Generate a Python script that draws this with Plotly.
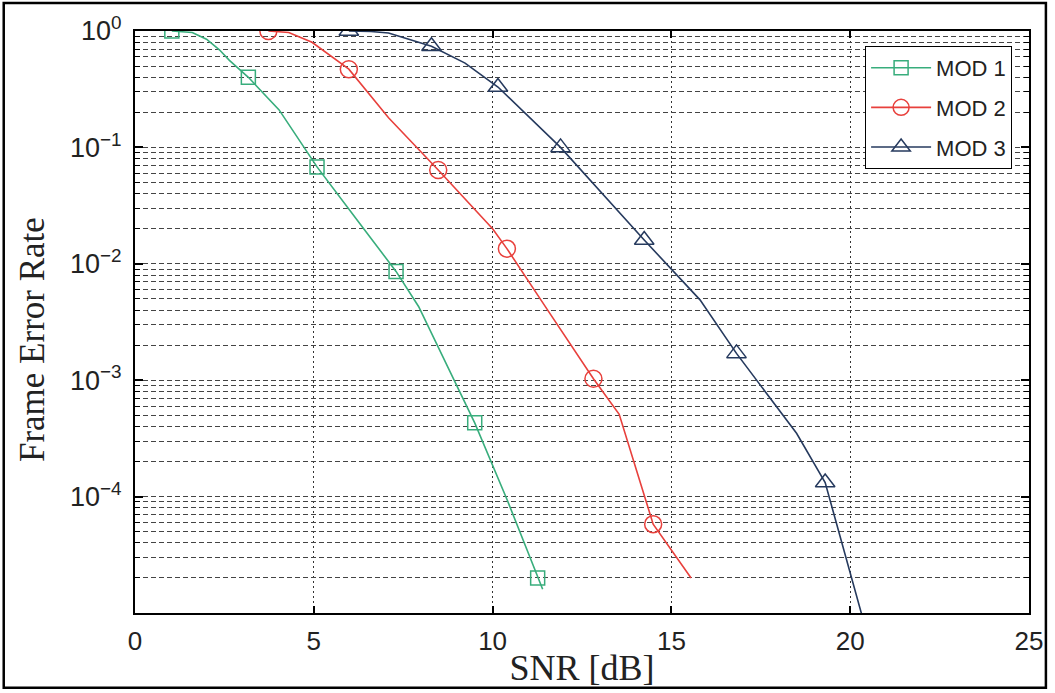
import plotly.graph_objects as go

# ---- data ----
mod1_line_x = [1.03, 1.6, 2.0, 2.36, 2.64, 3.17, 4.03, 5.09, 6.2, 7.3, 7.93, 9.5, 10.4, 11.26, 11.4]
mod1_line_y = [1.0, 0.97, 0.85, 0.69, 0.56, 0.40, 0.21, 0.068, 0.024, 0.0086, 0.0043, 4.3e-4, 9.5e-5, 2.0e-5, 1.6e-5]
mod1_mk_x = [1.03, 3.17, 5.09, 7.3, 9.5, 11.26]
mod1_mk_y = [1.0, 0.40, 0.068, 0.0086, 4.3e-4, 2.0e-5]

mod2_line_x = [3.73, 4.3, 4.95, 5.98, 7.09, 8.48, 10.0, 10.4, 11.54, 12.82, 13.54, 14.49, 15.55]
mod2_line_y = [1.0, 0.97, 0.8, 0.47, 0.18, 0.064, 0.020, 0.0135, 0.0040, 1.03e-3, 5.1e-4, 5.8e-5, 2.0e-5]
mod2_mk_x = [3.73, 5.98, 8.48, 10.4, 12.82, 14.49]
mod2_mk_y = [1.0, 0.47, 0.064, 0.0135, 1.03e-3, 5.8e-5]

mod3_line_x = [5.98, 6.6, 7.09, 8.29, 9.23, 10.15, 11.9, 14.24, 15.8, 16.82, 18.5, 19.3, 20.45]
mod3_line_y = [1.0, 0.99, 0.96, 0.74, 0.53, 0.33, 0.10, 0.016, 0.0049, 1.7e-3, 3.5e-4, 1.32e-4, 7e-6]
mod3_mk_x = [5.98, 8.29, 10.15, 11.9, 14.24, 16.82, 19.3]
mod3_mk_y = [1.0, 0.74, 0.33, 0.10, 0.016, 1.7e-3, 1.32e-4]

series_names = ["MOD 1", "MOD 2", "MOD 3"]
x_ticks = [0, 5, 10, 15, 20, 25]
y_major = [1e-4, 1e-3, 1e-2, 1e-1, 1e0]
y_major_labels = ["10<sup>−4</sup>", "10<sup>−3</sup>", "10<sup>−2</sup>", "10<sup>−1</sup>", "10<sup>0</sup>"]
x_title = "SNR [dB]"
y_title = "Frame Error Rate"

# ---- styling ----
colors = ["#38ad7c", "#e8403c", "#263a5e"]
symbols = ["square-open", "circle-open", "triangle-up-open"]
msizes = [14, 17, 17]

series = [
    (mod1_line_x, mod1_line_y, mod1_mk_x, mod1_mk_y),
    (mod2_line_x, mod2_line_y, mod2_mk_x, mod2_mk_y),
    (mod3_line_x, mod3_line_y, mod3_mk_x, mod3_mk_y),
]

fig = go.Figure()
for i, (lx, ly, mx, my) in enumerate(series):
    fig.add_trace(go.Scatter(x=lx, y=ly, mode="lines", showlegend=False,
                             line=dict(color=colors[i], width=1.6), hoverinfo="skip"))
    fig.add_trace(go.Scatter(x=mx, y=my, mode="markers", showlegend=False,
                             marker=dict(symbol=symbols[i], size=msizes[i], color=colors[i],
                                         line=dict(width=1.5, color=colors[i]))))
    fig.add_trace(go.Scatter(x=[None], y=[None], mode="lines+markers", name=series_names[i],
                             legendgroup=series_names[i],
                             line=dict(color=colors[i], width=1.6),
                             marker=dict(symbol=symbols[i], size=msizes[i], color=colors[i],
                                         line=dict(width=1.5, color=colors[i]))))

# minor log gridline positions (2..9 x 10^k)
y_minor = []
for k in range(-5, 0):
    for m in range(2, 10):
        y_minor.append(m * 10.0 ** k)

W, H = 1055, 693
L, R, T, B = 135, 21, 31, 79
pw, ph = W - L - R, H - T - B

def px_x(p):
    return (p - L) / pw

def px_y(p):
    return (H - B - p) / ph

sans = "Liberation Sans, Arial, sans-serif"
serif = "Liberation Serif, Times New Roman, serif"
grid_dash = "5px,3px"

fig.update_layout(
    width=W, height=H,
    margin=dict(l=L, r=R, t=T, b=B),
    paper_bgcolor="white", plot_bgcolor="white",
    font=dict(family=sans, size=22, color="#222"),
    showlegend=True,
    legend=dict(x=px_x(1017), y=px_y(46), xanchor="right", yanchor="top",
                bgcolor="white", bordercolor="black", borderwidth=1,
                font=dict(size=22, family=sans, color="#222"),
                tracegroupgap=8, itemwidth=60),
    shapes=[dict(type="rect", xref="paper", yref="paper",
                 x0=px_x(3), x1=px_x(1051), y0=px_y(689), y1=px_y(3),
                 line=dict(color="black", width=2.5), fillcolor="rgba(0,0,0,0)", layer="below")],
    annotations=[dict(text=y_title, xref="paper", yref="paper",
                      x=px_x(32), y=px_y(340), xanchor="center", yanchor="middle",
                      textangle=-90, showarrow=False,
                      font=dict(family=serif, size=35, color="#222"))],
    yaxis2=dict(type="log", range=[-5, 0], overlaying="y", side="left",
                tickvals=y_minor, showticklabels=False,
                showline=False, mirror="ticks",
                ticks="inside", ticklen=5, tickcolor="black", tickwidth=1.2,
                showgrid=True, gridcolor="#444", gridwidth=1, griddash=grid_dash,
                zeroline=False),
)

# invisible trace to activate the minor-grid overlay axis
fig.add_trace(go.Scatter(x=[None], y=[None], yaxis="y2", showlegend=False, hoverinfo="skip"))

fig.update_xaxes(
    range=[0, 25], tickvals=x_ticks, ticktext=[str(t) for t in x_ticks],
    showline=True, linecolor="black", linewidth=2, mirror="ticks",
    ticks="inside", ticklen=7, tickcolor="black", tickwidth=1.5,
    showgrid=True, gridcolor="#333", gridwidth=1, griddash="2px,3px",
    zeroline=False,
    tickfont=dict(size=26, family=sans, color="#222"),
    ticklabelstandoff=4,
    title=dict(text=x_title, standoff=0,
               font=dict(family=serif, size=36, color="#222")),
)
fig.update_layout(yaxis=dict(
    type="log", range=[-5, 0], tickvals=y_major, ticktext=y_major_labels,
    showline=True, linecolor="black", linewidth=2, mirror="ticks",
    ticks="inside", ticklen=8, tickcolor="black", tickwidth=1.5,
    showgrid=True, gridcolor="#444", gridwidth=1, griddash=grid_dash,
    zeroline=False,
    tickfont=dict(size=27, family=sans, color="#222"),
    ticklabelstandoff=6,
))

fig.write_html("out.html")
